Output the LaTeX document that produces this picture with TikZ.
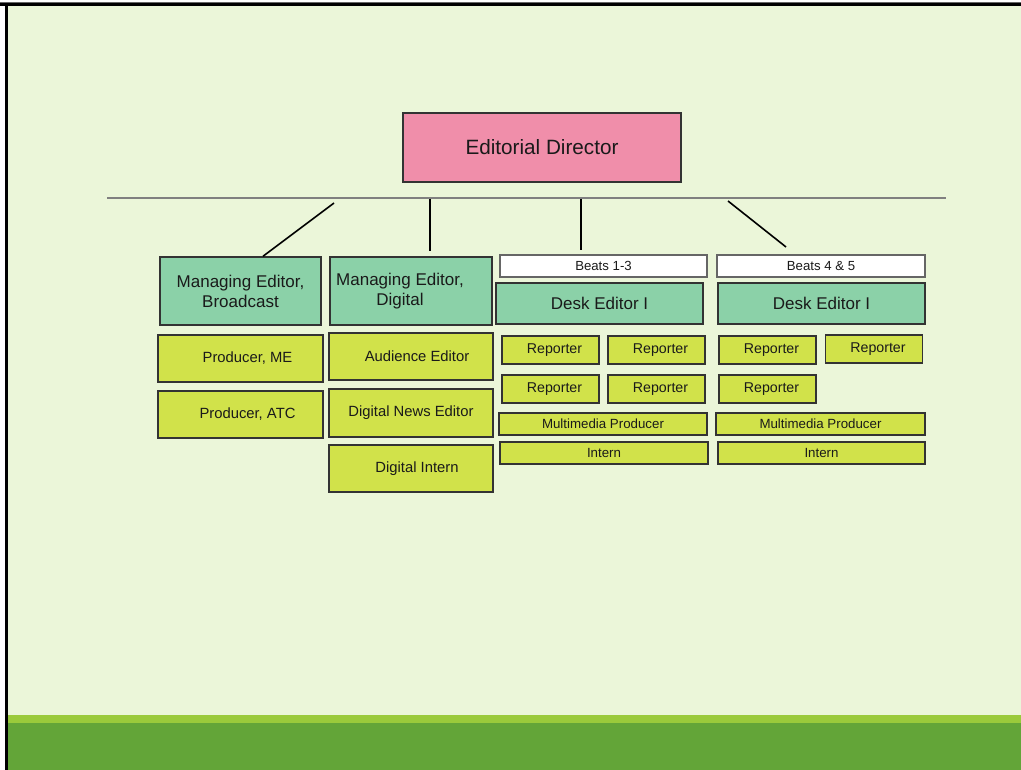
\documentclass[tikz,border=0pt]{standalone}
\usepackage{fontspec}
\setmainfont{Liberation Sans}
\definecolor{bgc}{HTML}{EBF6D9}
\definecolor{pinkc}{HTML}{F08EAA}
\definecolor{tealc}{HTML}{8BD1A8}
\definecolor{yelc}{HTML}{D1E24A}
\definecolor{lband}{HTML}{9ACA3B}
\definecolor{dband}{HTML}{63A538}
\definecolor{rulec}{HTML}{808080}
\definecolor{txt}{HTML}{1A1A1A}
\tikzset{
  x=1pt, y=-1pt,
  box/.style={draw=black!80, line width=1.4pt, inner sep=0pt, align=center, text=txt},
  dirbox/.style={box, fill=pinkc, minimum width=278pt, minimum height=69pt, font=\fontsize{20.7}{24}\selectfont},
  mgrbox/.style={box, fill=tealc, font=\fontsize{17}{20}\selectfont},
  bigy/.style={box, fill=yelc, minimum width=164pt, minimum height=47pt, font=\fontsize{14.8}{18}\selectfont},
  repbox/.style={box, fill=yelc, minimum width=97pt, minimum height=28pt, font=\fontsize{14.2}{17}\selectfont},
  widey/.style={box, fill=yelc, minimum width=208pt, minimum height=22pt, font=\fontsize{13.3}{16}\selectfont},
  beatbox/.style={box, fill=white, draw=black!60, minimum width=207pt, minimum height=22pt, font=\fontsize{13.2}{16}\selectfont},
  conn/.style={draw=black, line width=1.6pt},
}
\begin{document}
\begin{tikzpicture}
\useasboundingbox (0,0) rectangle (1021,770);
% background
\fill[white] (0,0) rectangle (1021,770);
\fill[bgc] (8,6) rectangle (1021,715);
\fill[lband] (8,715) rectangle (1021,723);
\fill[dband] (8,723) rectangle (1021,770);
\fill[black!60] (0,2) rectangle (1021,3);
\fill[black] (0,3) rectangle (1021,6);
\fill[black] (5,3) rectangle (8,770);

% top
\node[dirbox] (ed) at (542,147.5) {Editorial Director};

% rule
\coordinate (hl) at (107,198);
\coordinate (hr) at (946,198);
\draw[rulec, line width=1.2pt] (hl) -- (hr);

% managing editors
\node[mgrbox, minimum width=161pt, minimum height=68pt] (meb) at (240.5,291) {Managing Editor,\\Broadcast};
\node[mgrbox, minimum width=162pt, minimum height=68pt] (med) at (411,291) {};
\node[anchor=center, align=center, text=txt, font=\fontsize{17}{20}\selectfont, inner sep=0pt] (medt) at (400,291) {Managing Editor,\\Digital};

% broadcast staff
\node[bigy, minimum width=165pt] (pme) at (240.5,358.5) {\hspace*{14pt}Producer, ME};
\node[bigy, minimum width=165pt] (patc) at (240.5,414.5) {\hspace*{14pt}Producer, ATC};

% digital staff
\node[bigy] (aud) at (411,356.5) {\hspace*{12pt}Audience Editor};
\node[bigy, minimum height=48pt] (dne) at (411,413) {Digital News Editor};
\node[bigy] (dint) at (411,468.5) {\hspace*{12pt}Digital Intern};

% beats
\node[beatbox] (b13) at (603.5,266) {Beats 1-3};
\node[beatbox, minimum width=208pt] (b45) at (821,266) {Beats 4 \& 5};

\node[mgrbox, minimum width=207pt, minimum height=41pt] (de1) at (599.5,303.5) {Desk Editor I};
\node[mgrbox, minimum width=207pt, minimum height=41pt] (de2) at (821.5,303.5) {Desk Editor I};

\node[repbox] (r1) at (550.5,350) {\hspace*{8pt}Reporter};
\node[repbox] (r2) at (656.5,350) {\hspace*{8pt}Reporter};
\node[repbox] (r3) at (767.5,350) {\hspace*{8pt}Reporter};
\node[repbox] (r4) at (874,349) {\hspace*{8pt}Reporter};
\node[repbox] (r5) at (550.5,389) {\hspace*{8pt}Reporter};
\node[repbox] (r6) at (656.5,389) {\hspace*{8pt}Reporter};
\node[repbox] (r7) at (767.5,389) {\hspace*{8pt}Reporter};

\node[widey] (mp1) at (603,424) {Multimedia Producer};
\node[widey, minimum width=209pt] (mp2) at (820.5,424) {Multimedia Producer};
\node[widey] (in1) at (604,453) {Intern};
\node[widey, minimum width=207pt] (in2) at (821.5,453) {Intern};

% connectors
\coordinate (c1a) at (334,203);
\coordinate (c2a) at (430,199);
\coordinate (c2b) at (430,251);
\coordinate (c3a) at (581,199);
\coordinate (c3b) at (581,250);
\coordinate (c4a) at (728,201);
\coordinate (c4b) at (786,247);
\draw[conn] (c1a) -- ([xshift=22.5pt]meb.north);
\draw[conn] (c2a) -- (c2b);
\draw[conn] (c3a) -- (c3b);
\draw[conn] (c4a) -- (c4b);
\end{tikzpicture}
\end{document}
